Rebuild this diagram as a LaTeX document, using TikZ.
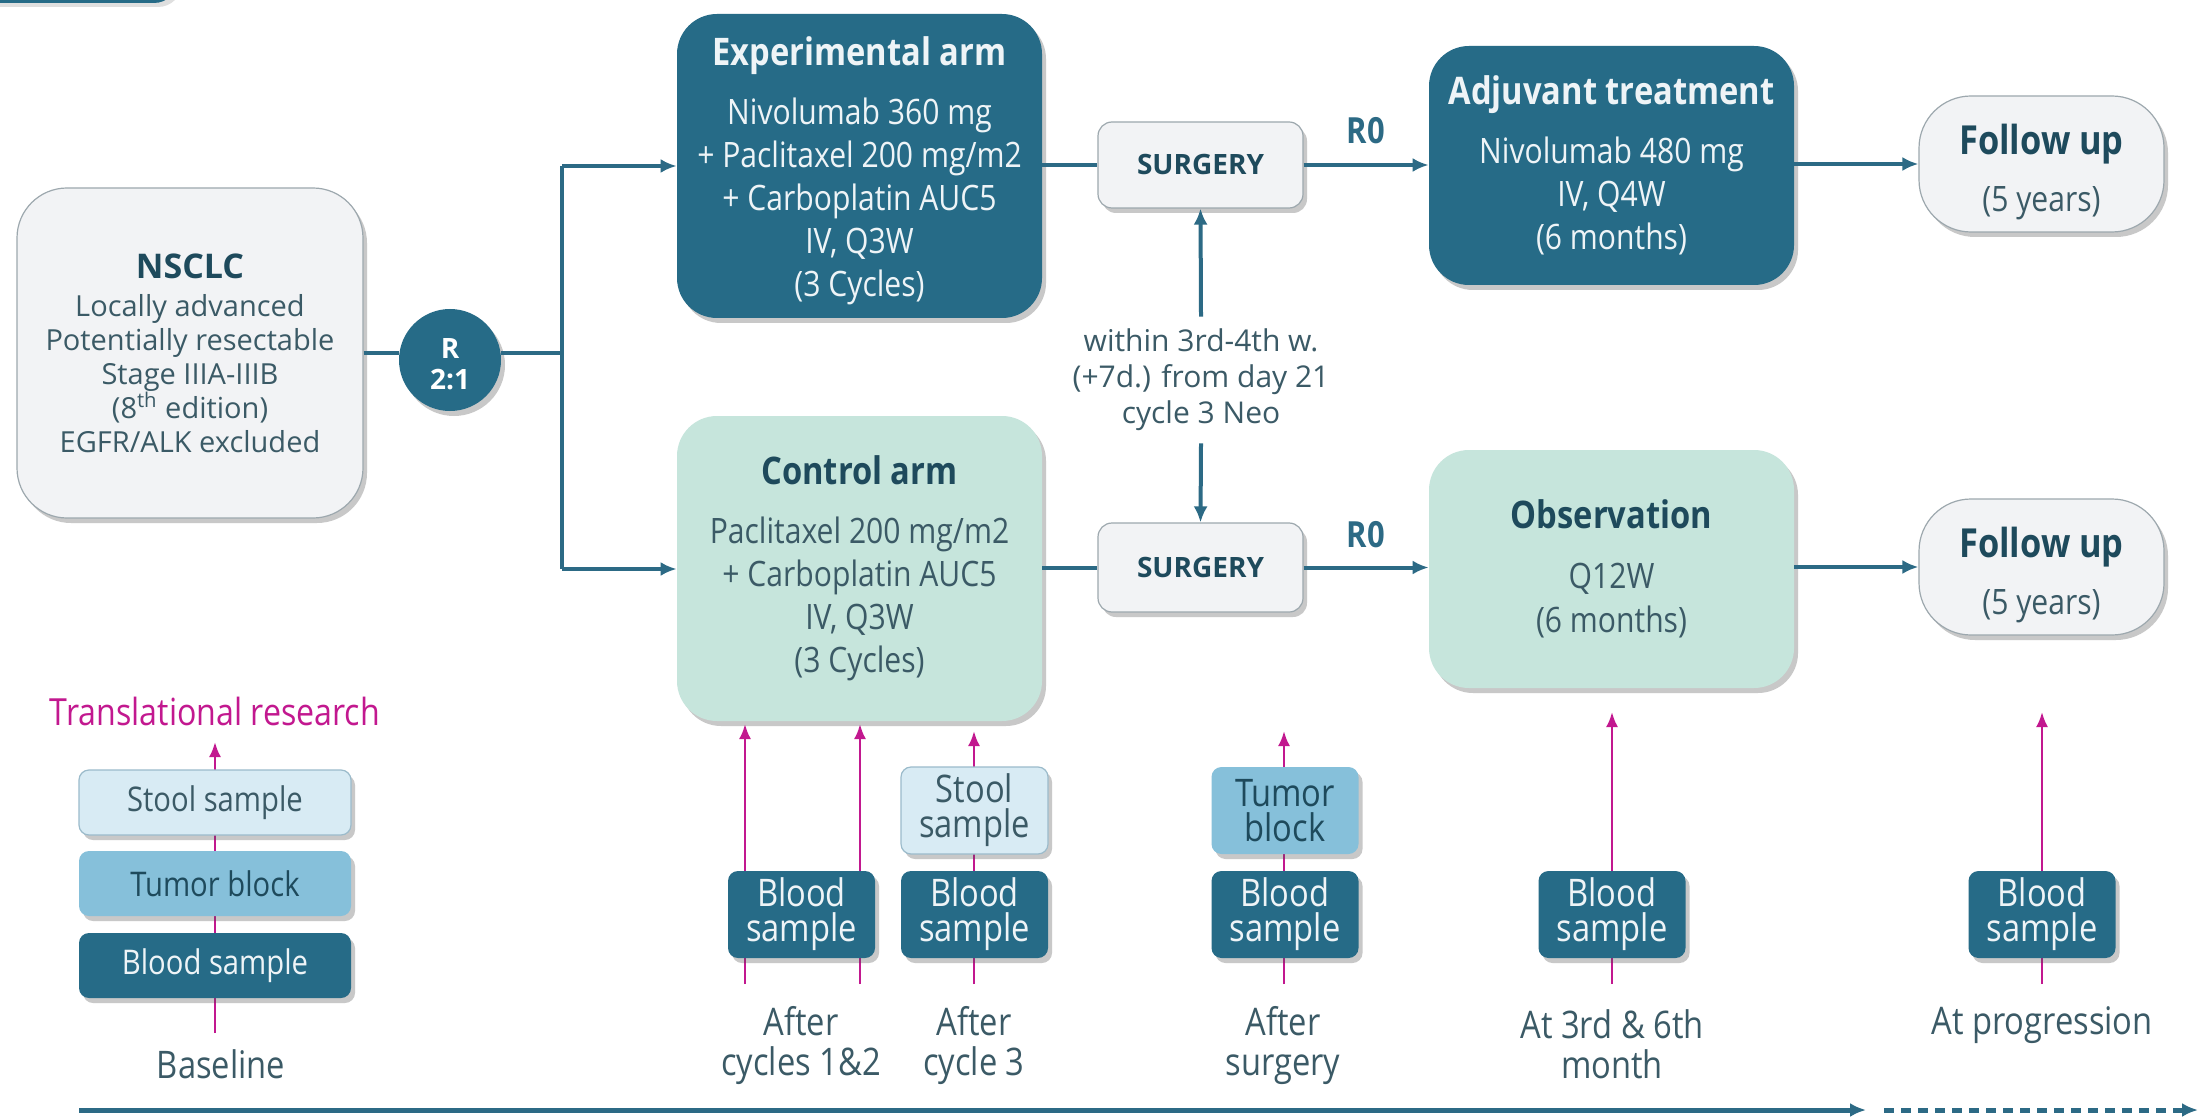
\documentclass[tikz,border=0pt]{standalone}
\usepackage{fontspec}
\setmainfont{Open Sans}
\newfontfamily\cf[FakeStretch=0.86]{Open Sans}
\usetikzlibrary{arrows.meta,shadows}
\definecolor{cDark}{HTML}{266B87}
\definecolor{cLine}{HTML}{2C6A85}
\definecolor{cTitle}{HTML}{1E4A5C}
\definecolor{cBody}{HTML}{3B5A66}
\definecolor{cMint}{HTML}{C6E5DC}
\definecolor{cGray}{HTML}{F2F3F5}
\definecolor{cGrayEdge}{HTML}{9DA8AE}
\definecolor{cStool}{HTML}{D8EBF4}
\definecolor{cStoolEdge}{HTML}{9BBBCB}
\definecolor{cTumor}{HTML}{86C0DA}
\definecolor{cMag}{HTML}{C2188F}
\definecolor{cWhiteText}{HTML}{EEF4F7}
\newcommand\myttl{\cf\fontsize{19}{21.5}\selectfont\bfseries}
\newcommand\myfuttl{\cf\fontsize{20}{21.5}\selectfont\bfseries}
\begin{document}
\begin{tikzpicture}[x=0.5pt,y=-0.5pt,
  shd/.style={drop shadow={shadow xshift=2pt,shadow yshift=-2.5pt,opacity=0.3,fill=black!70}},
  bigdark/.style={shd,fill=cDark,rounded corners=20pt,text=cWhiteText,align=center,inner sep=0pt,
     minimum width=182.5pt,font={\cf\fontsize{17.5}{21.5}\selectfont}},
  bigmint/.style={shd,fill=cMint,rounded corners=20pt,text=cBody,align=center,inner sep=0pt,
     minimum width=182.5pt,font={\cf\fontsize{17.5}{21.5}\selectfont}},
  graybox/.style={shd,fill=cGray,draw=cGrayEdge,line width=0.6pt,align=center,inner sep=0pt},
  flow/.style={draw=cLine,line width=2pt},
  flowarr/.style={flow,-{Latex[length=8pt,width=7pt]}},
  magline/.style={draw=cMag,line width=1.3pt},
  magarr/.style={magline,-{Latex[length=7.5pt,width=6pt]}},
  sbox/.style={shd,rounded corners=5pt,align=center,inner sep=0pt,minimum width=73.5pt,minimum height=43.5pt,
     font={\cf\fontsize{19}{17.5}\selectfont}},
  wbox/.style={shd,rounded corners=5pt,align=center,inner sep=0pt,minimum width=136pt,minimum height=32.5pt,
     font={\cf\fontsize{17}{17}\selectfont}},
  blood/.style={fill=cDark,text=cWhiteText},
  stool/.style={fill=cStool,draw=cStoolEdge,line width=0.6pt,text=cBody},
  tumor/.style={fill=cTumor,text=cTitle},
  lbl/.style={text=cBody,align=center,font={\cf\fontsize{19}{20}\selectfont}},
  rzero/.style={text=cLine,font={\cf\fontsize{18}{20}\selectfont\bfseries}}
]
\useasboundingbox (0,0) rectangle (2203,1117);
\fill[white] (0,0) rectangle (2203,1117);
% cut-off header fragment
\fill[cDark,rounded corners=12pt,drop shadow={shadow xshift=2pt,shadow yshift=-2pt,opacity=0.25}] (-60,-80) rectangle (178,3);

% ===== main flow nodes =====
\node[graybox,rounded corners=25pt,minimum width=173pt,minimum height=165pt,text=cBody,
      font={\fontsize{14.5}{17}\selectfont}] (nsclc) at (190,353)
  {{\fontsize{17}{17}\selectfont\bfseries\color{cTitle}NSCLC}\\[2pt]
   Locally advanced\\ Potentially resectable\\ Stage IIIA-IIIB\\ (8\textsuperscript{th} edition)\\ EGFR/ALK excluded};
\node[circle,shd,fill=cDark,minimum size=51pt,inner sep=0pt,text=white,align=center,
      font={\fontsize{14}{15.5}\selectfont\bfseries}] (r) at (450,360) {\rule{0pt}{14pt}R\\2:1};

\node[bigdark,minimum height=152pt] (exp) at (859.5,166)
  {\rule{0pt}{19pt}{\myttl Experimental arm}\\[8pt]
   Nivolumab 360 mg\\ + Paclitaxel 200 mg/m2\\ + Carboplatin AUC5\\ IV, Q3W\\ (3 Cycles)};
\node[bigmint,minimum height=152.5pt] (ctrl) at (859.5,568.5)
  {{\myttl\color{cTitle}Control arm}\\[8pt]
   Paclitaxel 200 mg/m2\\ + Carboplatin AUC5\\ IV, Q3W\\ (3 Cycles)};

\node[graybox,rounded corners=7pt,minimum width=102.5pt,minimum height=43pt,text=cTitle,
      font={\fontsize{14}{16}\selectfont\bfseries}] (surg1) at (1200.5,165) {SURGERY};
\node[graybox,rounded corners=7pt,minimum width=102.5pt,minimum height=44.5pt,text=cTitle,
      font={\fontsize{14}{16}\selectfont\bfseries}] (surg2) at (1200.5,567.5) {SURGERY};

\node[text=cBody,align=center,inner xsep=2pt,inner ysep=6pt,font={\fontsize{15}{18}\selectfont}] (within) at (1201,380)
  {within 3rd-4th w.\\ (+7d.) from day 21\\ cycle 3 Neo};

\node[bigdark,minimum height=119.5pt] (adj) at (1611.5,165.5)
  {{\myttl Adjuvant treatment}\\[8pt]
   Nivolumab 480 mg\\ IV, Q4W\\ (6 months)};
\node[bigmint,minimum height=119pt,font={\cf\fontsize{17.5}{22}\selectfont}] (obs) at (1611.5,569)
  {{\myttl\color{cTitle}Observation}\\[8pt]
   Q12W\\ (6 months)};

\node[graybox,rounded corners=26pt,minimum width=122.5pt,minimum height=68pt,text=cBody,
      font={\cf\fontsize{17.5}{28.5}\selectfont}] (fu1) at (2041.5,164)
  {\rule{0pt}{23pt}{\myfuttl\color{cTitle}Follow up}\\ (5 years)};
\node[graybox,rounded corners=26pt,minimum width=122.5pt,minimum height=68pt,text=cBody,
      font={\cf\fontsize{17.5}{28.5}\selectfont}] (fu2) at (2041.5,567)
  {\rule{0pt}{23pt}{\myfuttl\color{cTitle}Follow up}\\ (5 years)};

\node[rzero] (r0a) at (1366,131) {R0};
\node[rzero] (r0b) at (1366,535) {R0};

% ===== main flow connectors =====
\coordinate (bm) at (562,353);
\coordinate (bt) at (562,166);
\coordinate (bb) at (562,569);
\draw[flow] (nsclc.east) -- (nsclc.east -| r.west);
\draw[flow] (r.east |- bm) -- (bm);
\draw[flow] (bt) -- (bb);
\draw[flowarr] (bt) -- (exp.west |- bt);
\draw[flowarr] (bb) -- (ctrl.west |- bb);
\draw[flow] (exp.east |- surg1) -- (surg1.west);
\draw[flowarr] (surg1.east) -- (adj.west |- surg1);
\draw[flowarr] (adj.east |- fu1) -- (fu1.west);
\draw[flow] (ctrl.east |- surg2) -- (surg2.west);
\draw[flowarr] (surg2.east) -- (obs.west |- surg2);
\draw[flowarr] (obs.east |- fu2) -- (fu2.west);
\draw[flowarr] (within.north) -- (surg1.south);
\draw[flowarr] (within.south) -- (surg2.north);

% ===== translational research =====
\node[text=cMag,font={\cf\fontsize{18.7}{20}\selectfont}] (trans) at (215,711) {Translational research};
\node[lbl] (lbase) at (221,1064) {Baseline};
\node[lbl] (l1) at (801,1046) {After\\cycles 1\&2};
\node[lbl] (l2) at (974,1046) {After\\cycle 3};
\node[lbl] (l3) at (1283,1046) {After\\surgery};
\node[lbl] (l4) at (1612,1044) {At 3rd \& 6th\\month};
\node[lbl] (l5) at (2042,1025) {At progression};

\coordinate (m0b) at (215,1033);  \coordinate (m0t) at (215,742);
\coordinate (m1b) at (745,984);   \coordinate (m1t) at (745,724);
\coordinate (m2b) at (860,984);   \coordinate (m2t) at (860,724);
\coordinate (m3b) at (974,984);   \coordinate (m3t) at (974,731);
\coordinate (m4b) at (1284,984);  \coordinate (m4t) at (1284,731);
\coordinate (m5b) at (1612,984);  \coordinate (m5t) at (1612,712);
\coordinate (m6b) at (2042,984);  \coordinate (m6t) at (2042,712);
\foreach \i in {0,...,6} {\draw[magarr] (m\i b) -- (m\i t);}

\node[wbox,stool] (bstool) at (215,802.5) {Stool sample};
\node[wbox,tumor] (btumor) at (215,883.5) {Tumor block};
\node[wbox,blood] (bblood) at (215,965.5) {Blood sample};

\node[sbox,blood] (blood1) at (801.5,914.5) {Blood\\sample};
\node[sbox,stool] (stool2) at (974.5,810.5) {Stool\\sample};
\node[sbox,blood] (blood2) at (974.5,914.5) {Blood\\sample};
\node[sbox,tumor] (tumor3) at (1285,810.5) {Tumor\\block};
\node[sbox,blood] (blood3) at (1285,914.5) {Blood\\sample};
\node[sbox,blood] (blood4) at (1612,914.5) {Blood\\sample};
\node[sbox,blood] (blood5) at (2042,914.5) {Blood\\sample};

% ===== timeline =====
\coordinate (tl0) at (79,1110);
\coordinate (tl1) at (1866,1110);
\coordinate (tl2) at (1884,1110);
\coordinate (tl3) at (2198,1110);
\draw[draw=cLine,line width=2.5pt,-{Latex[length=8pt,width=7pt]}] (tl0) -- (tl1);
\draw[draw=cLine,line width=2.5pt,dash pattern=on 5pt off 3.5pt,-{Latex[length=8pt,width=7pt]}] (tl2) -- (tl3);
\end{tikzpicture}
\end{document}
